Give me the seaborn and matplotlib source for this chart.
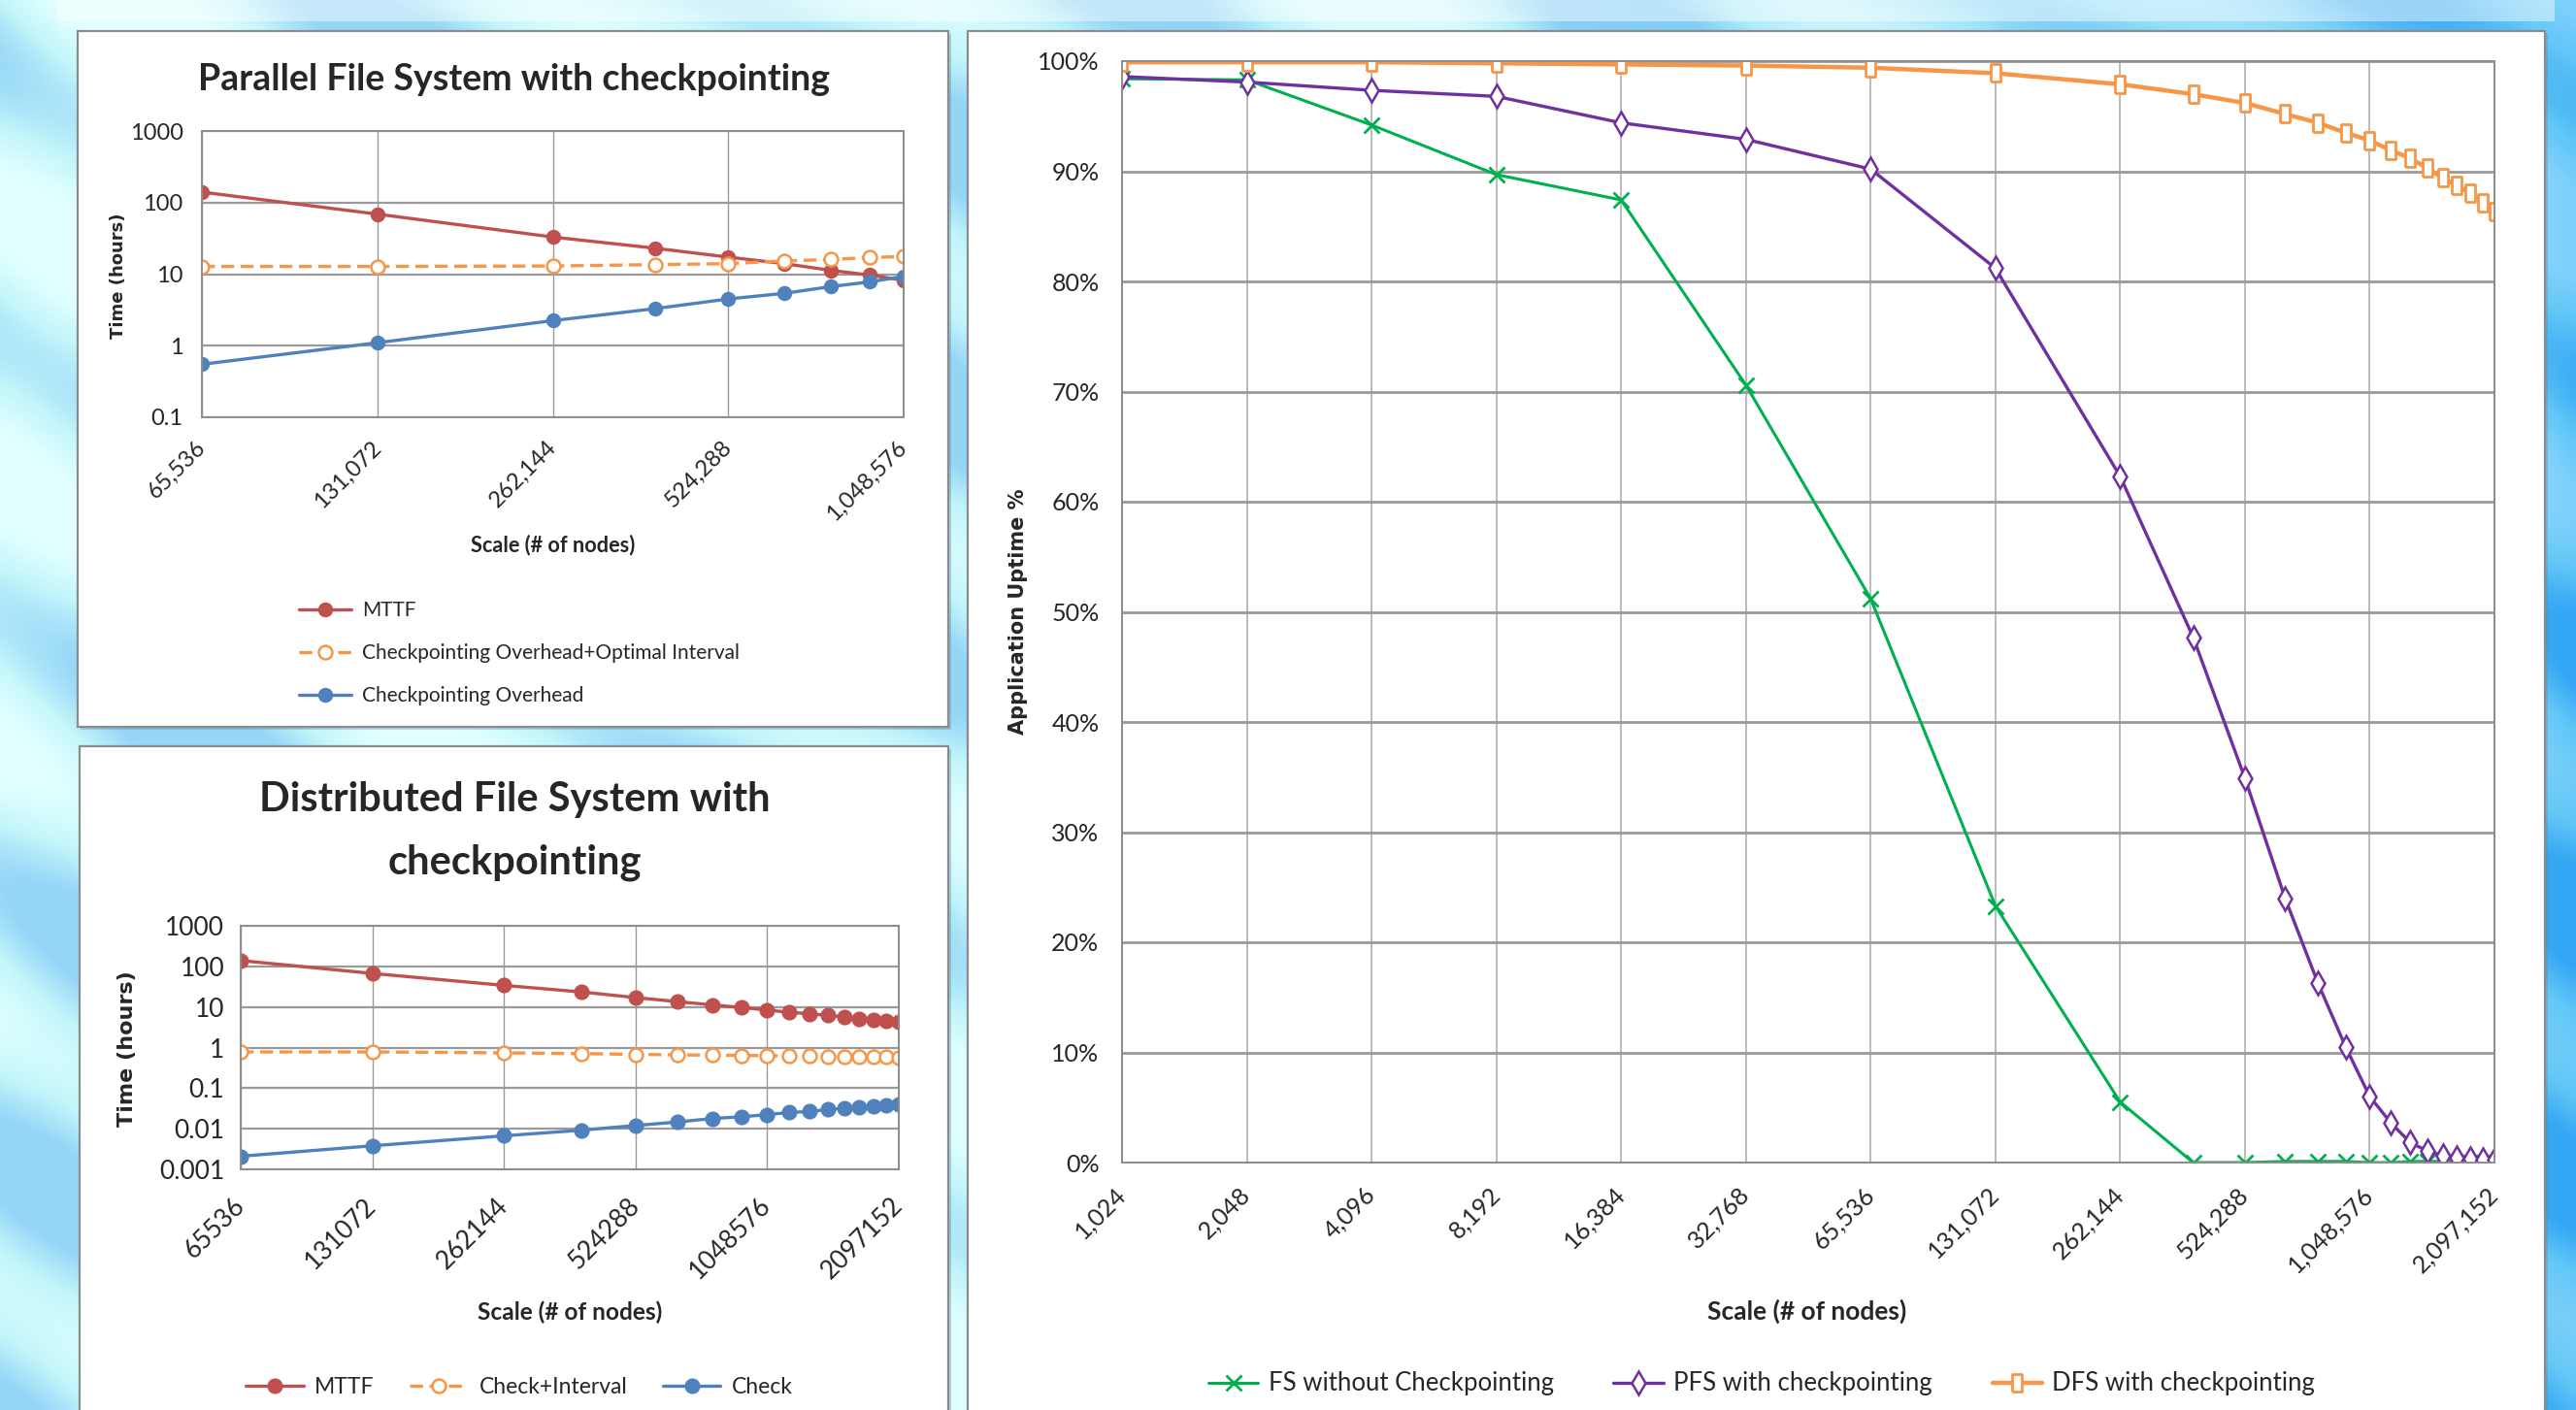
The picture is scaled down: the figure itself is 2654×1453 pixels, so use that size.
import numpy as np
import pandas as pd
import matplotlib
matplotlib.use("Agg")
import matplotlib.pyplot as plt
import seaborn as sns
from matplotlib.patches import Rectangle
from matplotlib.ticker import NullLocator, FixedLocator

# ---- data: PFS with checkpointing (hours) ----
pfs_nodes = [65536, 131072, 262144, 393216, 524288, 655360, 786432, 917504, 1048576]
pfs_mttf = [140, 69, 33, 23, 17.3, 14, 11.3, 9.7, 8.2]
pfs_ckpt_interval = [12.8, 12.8, 13.0, 13.6, 14.0, 15.3, 16.0, 17.1, 17.6]
pfs_ckpt = [0.55, 1.1, 2.24, 3.3, 4.5, 5.4, 6.7, 7.8, 9.3]
pfs_ticks = [65536, 131072, 262144, 524288, 1048576]
pfs_ticklabels = ["65,536", "131,072", "262,144", "524,288", "1,048,576"]

# ---- data: DFS with checkpointing (hours) ----
dfs_nodes = [65536, 131072, 262144, 393216, 524288, 655360, 786432, 917504, 1048576,
             1179648, 1310720, 1441792, 1572864, 1703936, 1835008, 1966080, 2097152]
dfs_mttf = [139, 67, 34, 23.5, 17, 13.5, 11.2, 9.7, 8.4, 7.4, 6.8, 6.2, 5.7, 5.2, 4.9, 4.6, 4.2]
dfs_ckpt_interval = [0.78, 0.78, 0.74, 0.71, 0.68, 0.66, 0.65, 0.64, 0.63,
                     0.62, 0.61, 0.60, 0.60, 0.59, 0.58, 0.58, 0.57]
dfs_ckpt = [0.0021, 0.0038, 0.0067, 0.0092, 0.012, 0.0147, 0.0179, 0.0197, 0.0223,
            0.0252, 0.0265, 0.0297, 0.032, 0.033, 0.036, 0.038, 0.040]
dfs_ticks = [65536, 131072, 262144, 524288, 1048576, 2097152]
dfs_ticklabels = ["65536", "131072", "262144", "524288", "1048576", "2097152"]

# ---- data: application uptime (%) ----
up_nodes = [1024, 2048, 4096, 8192, 16384, 32768, 65536, 131072, 262144, 393216, 524288,
            655360, 786432, 917504, 1048576, 1179648, 1310720, 1441792, 1572864, 1703936,
            1835008, 1966080, 2097152]
fs_uptime = [98.4, 98.3, 94.2, 89.7, 87.4, 70.6, 51.2, 23.3, 5.5, 0.0, 0.0,
             0.1, 0.1, 0.1, 0.0, 0.0, 0.1, 0.1, 0.1, 0.0, 0.0, 0.0, 0.0]
pfs_uptime = [98.6, 98.1, 97.35, 96.8, 94.4, 92.9, 90.2, 81.2, 62.3, 47.7, 34.9,
              24.0, 16.3, 10.5, 6.0, 3.6, 1.85, 1.05, 0.65, 0.45, 0.35, 0.3, 0.25]
dfs_uptime = [99.9, 99.9, 99.9, 99.8, 99.7, 99.6, 99.4, 98.9, 97.9, 97.0, 96.2,
              95.2, 94.4, 93.5, 92.8, 91.9, 91.2, 90.3, 89.4, 88.7, 88.0, 87.1, 86.3]
up_ticks = [1024, 2048, 4096, 8192, 16384, 32768, 65536, 131072, 262144, 524288, 1048576, 2097152]
up_ticklabels = ["1,024", "2,048", "4,096", "8,192", "16,384", "32,768", "65,536",
                 "131,072", "262,144", "524,288", "1,048,576", "2,097,152"]

RED, ORANGE, BLUE = "#C0504D", "#F79646", "#4F81BD"
GREEN, PURPLE = "#00B050", "#7030A0"
GRID = "#9a9a9a"

sns.set_style("white")
plt.rcParams["font.family"] = ["Lato", "DejaVu Sans"]
FONT = ["Lato", "DejaVu Sans"]

W, H = 2654, 1453
fig = plt.figure(figsize=(W / 100, H / 100), dpi=100)


def box(x0, y0, x1, y1):
    # pixel box (top-left origin) -> figure fraction rect
    return [x0 / W, 1 - y1 / H, (x1 - x0) / W, (y1 - y0) / H]


# ---- background: cyan/blue slide texture ----
bg = fig.add_axes([0, 0, 1, 1], zorder=-10)
gy, gx = np.mgrid[0:H:4, 0:W:4].astype(float)
t = (gx / W) ** 4
base = np.stack([195 - 100 * t, 246 - 48 * t, 251 - 4 * t], axis=-1)
u = np.sin((gx * 0.55 - gy * 0.85) / 38.0) + 0.6 * np.sin((gx * 0.9 + gy * 0.3) / 90.0)
band = np.clip(u, -1, 1)[..., None]
img = base + np.where(band > 0, band * np.array([30, 10, 4]), band * np.array([45, 32, 4]))
bg.imshow(np.clip(img, 0, 255).astype(np.uint8), extent=[0, W, H, 0], aspect="auto",
          interpolation="bilinear")
bg.set_xlim(0, W)
bg.set_ylim(H, 0)
bg.axis("off")
bg.add_patch(Rectangle((59, 0), 2573, 22, facecolor="white", alpha=0.45, edgecolor="none"))

# ---- white panels ----
for (x0, y0, x1, y1) in [(80, 32, 977, 749), (82, 769, 977, 1460), (997, 32, 2622, 1460)]:
    bg.add_patch(Rectangle((x0 + 3, y0 + 3), x1 - x0, y1 - y0, facecolor="#5a8aa0",
                           alpha=0.35, edgecolor="none"))
    bg.add_patch(Rectangle((x0, y0), x1 - x0, y1 - y0, facecolor="white",
                           edgecolor="#8c8c8c", linewidth=1.6))


def line(ax, x, y, color, marker, label, ms=9, mfc=None, ls="-", lw=2.4, mew=1.6):
    df = pd.DataFrame({"x": x, "y": y})
    sns.lineplot(data=df, x="x", y="y", ax=ax, color=color, marker=marker,
                 markersize=ms, markerfacecolor=mfc or color, markeredgecolor=color,
                 markeredgewidth=mew, linewidth=lw, linestyle=ls, label=label,
                 estimator=None, sort=False)


def style_axes(ax, xt, xtl, tick_fs, xpad, ypad):
    ax.set_xscale("log", base=2)
    ax.xaxis.set_major_locator(FixedLocator(xt))
    ax.set_xticklabels(xtl)
    ax.xaxis.set_minor_locator(NullLocator())
    ax.set_xlim(xt[0], xt[-1])
    ax.xaxis.grid(True, color=GRID, linewidth=1.0)
    ax.yaxis.grid(True, color=GRID, linewidth=1.6)
    for s in ax.spines.values():
        s.set_color("#8c8c8c")
        s.set_linewidth(1.4)
    ax.tick_params(axis="x", length=0, pad=xpad)
    ax.tick_params(axis="y", length=0, pad=ypad)
    for lab in ax.get_xticklabels():
        lab.set_rotation(45)
        lab.set_ha("right")
        lab.set_va("center")
        lab.set_rotation_mode("anchor")
        lab.set_fontfamily(FONT)
        lab.set_fontsize(tick_fs)
    for lab in ax.get_yticklabels():
        lab.set_fontfamily(FONT)
        lab.set_fontsize(tick_fs)
    ax.set_xlabel("")
    ax.set_ylabel("")


# ---- top-left: Parallel File System ----
ax1 = fig.add_axes(box(208, 135, 931, 430))
line(ax1, pfs_nodes, pfs_mttf, RED, "o", "MTTF", ms=9.5)
line(ax1, pfs_nodes, pfs_ckpt_interval, ORANGE, "o", "Checkpointing Overhead+Optimal Interval",
     mfc="white", ls=(0, (4, 2)), ms=10, mew=1.8)
line(ax1, pfs_nodes, pfs_ckpt, BLUE, "o", "Checkpointing Overhead", ms=9.5)
ax1.set_yscale("log")
ax1.set_ylim(0.1, 1000)
ax1.yaxis.set_major_locator(FixedLocator([0.1, 1, 10, 100, 1000]))
ax1.yaxis.set_minor_locator(NullLocator())
ax1.set_yticklabels(["0.1", "1", "10", "100", "1000"])
style_axes(ax1, pfs_ticks, pfs_ticklabels, 17, 20, 14)
ax1.legend(loc="center", bbox_to_anchor=(535 / W, 1 - 673 / H), bbox_transform=fig.transFigure,
           frameon=False, prop={"family": FONT, "size": 15}, handlelength=2.6,
           handletextpad=0.5, labelspacing=1.15)
fig.text(529 / W, 1 - 82 / H, "Parallel File System with checkpointing", ha="center",
         va="center", fontsize=27, fontweight="bold", family=FONT)
fig.text(570 / W, 1 - 562 / H, "Scale (# of nodes)", ha="center", va="center",
         fontsize=15.6, fontweight="bold", family=FONT)
fig.text(122 / W, 1 - 284 / H, "Time (hours)", ha="center", va="center", rotation=90,
         fontsize=13, fontweight="bold", family="DejaVu Sans")

# ---- bottom-left: Distributed File System ----
ax2 = fig.add_axes(box(248, 954, 926, 1205))
line(ax2, dfs_nodes, dfs_mttf, RED, "o", "MTTF", ms=10)
line(ax2, dfs_nodes, dfs_ckpt_interval, ORANGE, "o", "Check+Interval",
     mfc="white", ls=(0, (4, 2)), ms=10, mew=1.8)
line(ax2, dfs_nodes, dfs_ckpt, BLUE, "o", "Check", ms=10)
ax2.set_yscale("log")
ax2.set_ylim(0.001, 1000)
ax2.yaxis.set_major_locator(FixedLocator([0.001, 0.01, 0.1, 1, 10, 100, 1000]))
ax2.yaxis.set_minor_locator(NullLocator())
ax2.set_yticklabels(["0.001", "0.01", "0.1", "1", "10", "100", "1000"])
style_axes(ax2, dfs_ticks, dfs_ticklabels, 19, 24, 12)
ax2.legend(loc="center", bbox_to_anchor=(535 / W, 1 - 1430 / H), bbox_transform=fig.transFigure,
           frameon=False, prop={"family": FONT, "size": 16.5}, ncol=3, handlelength=2.6,
           handletextpad=0.5, columnspacing=1.6)
fig.text(530 / W, 1 - 824 / H, "Distributed File System with", ha="center", va="center",
         fontsize=30, fontweight="bold", family=FONT)
fig.text(530 / W, 1 - 889 / H, "checkpointing", ha="center", va="center",
         fontsize=30, fontweight="bold", family=FONT)
fig.text(587 / W, 1 - 1352 / H, "Scale (# of nodes)", ha="center", va="center",
         fontsize=17.6, fontweight="bold", family=FONT)
fig.text(131 / W, 1 - 1081 / H, "Time (hours)", ha="center", va="center", rotation=90,
         fontsize=16, fontweight="bold", family="DejaVu Sans")

# ---- right: Application uptime ----
ax3 = fig.add_axes(box(1156, 63, 2570, 1198))
line(ax3, up_nodes, fs_uptime, GREEN, "x", "FS without Checkpointing", ms=11, lw=2.2, mew=2)
line(ax3, up_nodes, pfs_uptime, PURPLE, "d", "PFS with checkpointing", ms=12, mfc="white",
     lw=2.4, mew=1.8)
tall_sq = [(-0.6, -1), (0.6, -1), (0.6, 1), (-0.6, 1), (-0.6, -1)]
line(ax3, up_nodes, dfs_uptime, ORANGE, tall_sq, "DFS with checkpointing", ms=13, mfc="white",
     lw=3.2, mew=2)
ax3.set_ylim(0, 100)
ax3.yaxis.set_major_locator(FixedLocator(list(range(0, 101, 10))))
ax3.set_yticklabels([f"{v}%" for v in range(0, 101, 10)])
style_axes(ax3, up_ticks, up_ticklabels, 18, 21, 17)
ax3.xaxis.grid(True, color="#a8a8a8", linewidth=1.1)
ax3.yaxis.grid(True, color="#999999", linewidth=2.0)
ax3.legend(loc="center", bbox_to_anchor=(1815 / W, 1 - 1426 / H), bbox_transform=fig.transFigure,
           frameon=False, prop={"family": FONT, "size": 18.5}, ncol=3, handlelength=2.0,
           handletextpad=0.4, columnspacing=2.4)
fig.text(1862 / W, 1 - 1351 / H, "Scale (# of nodes)", ha="center", va="center",
         fontsize=19, fontweight="bold", family=FONT)
fig.text(1049 / W, 1 - 630 / H, "Application Uptime %", ha="center", va="center",
         rotation=90, fontsize=15, fontweight="bold", family="DejaVu Sans")

fig.savefig("out.png", dpi=100)
